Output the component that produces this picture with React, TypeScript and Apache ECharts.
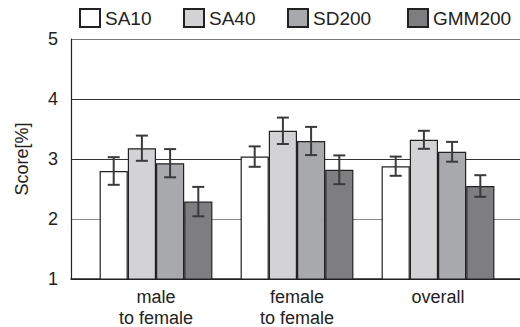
import React, { useEffect, useRef } from "react";
import * as echarts from "echarts";

const categories = ["male\nto female", "female\nto female", "overall"];
const seriesNames = ["SA10", "SA40", "SD200", "GMM200"];
const seriesColors = ["#ffffff", "#d3d3d5", "#a8a9ac", "#7e7e80"];
const sa10 = [2.8, 3.04, 2.88];
const sa40 = [3.18, 3.47, 3.32];
const sd200 = [2.93, 3.3, 3.12];
const gmm200 = [2.29, 2.82, 2.55];
const sa10Err = [0.23, 0.17, 0.16];
const sa40Err = [0.21, 0.22, 0.15];
const sd200Err = [0.235, 0.235, 0.165];
const gmm200Err = [0.245, 0.24, 0.18];
const yTicks = [1, 2, 3, 4, 5];

const values = [sa10, sa40, sd200, gmm200];
const errors = [sa10Err, sa40Err, sd200Err, gmm200Err];
const legendLefts = [79, 183, 287, 407];

export default function App() {
  const ref = useRef<HTMLDivElement>(null);
  useEffect(() => {
    if (!ref.current) return;
    const chart = echarts.init(ref.current, null, { renderer: "svg" });
    const font = "'Liberation Sans', Arial, Helvetica, sans-serif";
    const nSeries = seriesNames.length;
    const barSeries = seriesNames.map((name, i) => ({
      name,
      type: "bar",
      xAxisIndex: 1,
      yAxisIndex: 1,
      barGap: "0%",
      barCategoryGap: "20%",
      data: values[i],
      itemStyle: { color: seriesColors[i], borderColor: "#222", borderWidth: 1.2 },
      z: 2,
    }));
    const errSeries = seriesNames.map((name, i) => ({
      type: "custom",
      xAxisIndex: 1,
      yAxisIndex: 1,
      z: 5,
      data: values[i].map((v, c) => [c, v - errors[i][c], v + errors[i][c]]),
      renderItem: (params: any, api: any) => {
        const c = api.value(0);
        const lo = api.coord([c, api.value(1)]);
        const hi = api.coord([c, api.value(2)]);
        const band = api.size([1, 0])[0];
        const bw = (band * 0.8) / nSeries;
        const x = lo[0] + (i - (nSeries - 1) / 2) * bw;
        const cap = 6;
        const style = { stroke: "#3a3a3a", lineWidth: 2 };
        return {
          type: "group",
          children: [
            { type: "line", shape: { x1: x, y1: lo[1], x2: x, y2: hi[1] }, style },
            { type: "line", shape: { x1: x - cap, y1: lo[1], x2: x + cap, y2: lo[1] }, style },
            { type: "line", shape: { x1: x - cap, y1: hi[1], x2: x + cap, y2: hi[1] }, style },
          ],
        };
      },
    }));
    chart.setOption({
      animation: false,
      textStyle: { fontFamily: font },
      legend: seriesNames.map((name, i) => ({
        data: [name],
        left: legendLefts[i],
        top: 8,
        itemWidth: 20,
        itemHeight: 18,
        itemGap: 0,
        padding: 0,
        icon: "rect",
        textStyle: { fontSize: 19, color: "#222", fontFamily: font },
      })),
      grid: [
        { left: 71, right: 0, top: 39, height: 240, outerBoundsMode: "none", containLabel: false },
        { left: 85.5, width: 423, top: 39, height: 240, outerBoundsMode: "none", containLabel: false },
      ],
      xAxis: [
        {
          type: "category",
          gridIndex: 0,
          data: [""],
          axisLine: { show: true, lineStyle: { color: "#222", width: 1.5 } },
          axisTick: { show: false },
          axisLabel: { show: false },
        },
        {
          type: "category",
          gridIndex: 1,
          data: categories,
          axisLine: { show: false },
          axisTick: { show: false },
          axisLabel: { fontSize: 18, color: "#222", lineHeight: 21, margin: 7, fontFamily: font },
        },
      ],
      yAxis: [
        {
          type: "value",
          gridIndex: 0,
          min: yTicks[0],
          max: yTicks[yTicks.length - 1],
          interval: 1,
          axisLine: { show: true, lineStyle: { color: "#222", width: 1.2 } },
          axisTick: { show: false },
          axisLabel: { fontSize: 18, color: "#222", margin: 13, fontFamily: font },
          splitLine: {
            show: true,
            lineStyle: { color: ["#222", "#8a8a8a", "#333", "#333", "#777"], width: 1.2 },
          },
          name: "Score[%]",
          nameLocation: "middle",
          nameRotate: 90,
          nameGap: 40,
          nameTextStyle: { fontSize: 18, color: "#222", fontFamily: font },
        },
        {
          type: "value",
          gridIndex: 1,
          min: yTicks[0],
          max: yTicks[yTicks.length - 1],
          interval: 1,
          show: false,
          splitLine: { show: false },
        },
      ],
      series: [...barSeries, ...errSeries],
    });
    return () => chart.dispose();
  }, []);
  return <div ref={ref} style={{ width: 520, height: 327, position: "absolute", left: 0, top: 0 }} />;
}
